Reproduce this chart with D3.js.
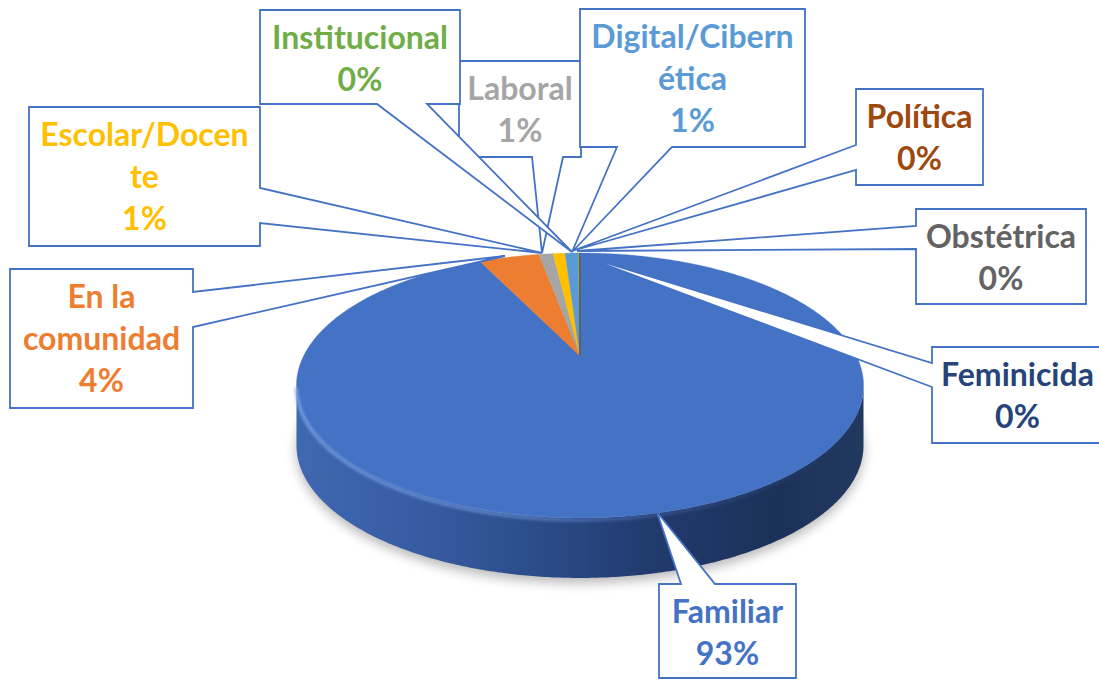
<!DOCTYPE html>
<html>
<head>
<meta charset="utf-8">
<script src="https://cdn.jsdelivr.net/npm/d3@7"></script>
<style>
  html, body { margin: 0; padding: 0; background: #ffffff; }
  svg { display: block; }
</style>
</head>
<body>
<svg id="chart" width="1099" height="680"></svg>
<script>
// ---------------- DATA ----------------
const categories = ["Familiar", "En la comunidad", "Laboral", "Escolar/Docente",
  "Digital/Cibernética", "Institucional", "Feminicida", "Política", "Obstétrica"];
const values = [92.86, 4.25, 0.99, 0.85, 0.92, 0.10, 0.01, 0.01, 0.01];
const labelLines = [["Familiar"], ["En la", "comunidad"], ["Laboral"], ["Escolar/Docen", "te"],
  ["Digital/Cibern", "ética"], ["Institucional"], ["Feminicida"], ["Política"], ["Obstétrica"]];

// ---------------- STYLE / LAYOUT ----------------
const colors = ["#4472C4", "#ED7D31", "#A5A5A5", "#FFC000", "#5B9BD5",
  "#70AD47", "#264478", "#9E480E", "#636363"];

// callout boxes (label layout): box [x0,y0,x1,y1], side of pointer, base of pointer, tip
const callouts = [
  { box: [659, 584, 796, 678], side: "top",    base: [681, 715], tip: [657, 512] },
  { box: [10, 269, 193, 408],  side: "right",  base: [292, 327], tip: [505, 256] },
  { box: [459, 61, 581, 157],  side: "bottom", base: [532, 563], tip: [542, 253] },
  { box: [29, 107, 260, 246],  side: "right",  base: [188, 223], tip: [542, 253] },
  { box: [580, 9, 805, 147],   side: "bottom", base: [617, 672], tip: [572, 252] },
  { box: [260, 10, 460, 104],  side: "bottom", base: [377, 427], tip: [572, 252] },
  { box: [932, 347, 1103, 443], side: "left",  base: [363, 387], tip: [580, 255] },
  { box: [856, 89, 983, 185],  side: "left",   base: [145, 170], tip: [572, 251] },
  { box: [916, 209, 1086, 304], side: "left",  base: [226, 249], tip: [577, 251] }
];

const pieCfg = { cx: 580, cy: 356, K: 276.4, U: 125.9, v: 0.2226, T: 60 };

// ---------------- DRAW ----------------
const svg = d3.select("#chart");
const defs = svg.append("defs");

const total = d3.sum(values);
const pct = d3.format(".0%");

const pie = d3.pie().sort(null).value(d => d).startAngle(0).endAngle(2 * Math.PI);
const arcs = pie(values);

function proj(theta, r, h) {
  const X = r * Math.sin(theta), Z = r * Math.cos(theta);
  const d = 1 + pieCfg.v * Z;
  return [pieCfg.cx + pieCfg.K * X / d, pieCfg.cy - pieCfg.U * Z / d + h * pieCfg.T];
}
function arcPts(a0, a1, r, h) {
  const n = Math.max(2, Math.ceil(Math.abs(a1 - a0) / (Math.PI / 360)));
  return d3.range(n + 1).map(i => proj(a0 + (a1 - a0) * i / n, r, h));
}
const line = d3.line();

// filters & gradients
const blur = defs.append("filter").attr("id", "shadow").attr("x", "-20%").attr("y", "-20%")
  .attr("width", "140%").attr("height", "140%");
blur.append("feGaussianBlur").attr("stdDeviation", 6);
const soft = defs.append("filter").attr("id", "soft").attr("x", "-10%").attr("y", "-10%")
  .attr("width", "120%").attr("height", "120%");
soft.append("feGaussianBlur").attr("stdDeviation", 1.6);

const sideGrad = defs.append("linearGradient").attr("id", "sideGrad")
  .attr("gradientUnits", "userSpaceOnUse").attr("x1", 296).attr("x2", 864).attr("y1", 0).attr("y2", 0);
[[0, "#3F68B1"], [0.22, "#365CA2"], [0.45, "#2A4A86"], [0.62, "#213B6E"], [0.85, "#1C3159"], [1, "#22395F"]]
  .forEach(([o, c]) => sideGrad.append("stop").attr("offset", o).attr("stop-color", c));

const rimGrad = defs.append("linearGradient").attr("id", "rimGrad")
  .attr("gradientUnits", "userSpaceOnUse").attr("x1", 296).attr("x2", 864).attr("y1", 0).attr("y2", 0);
[[0, "#7FA6E6", 0.9], [0.4, "#6F98DD", 0.7], [0.7, "#5A84CC", 0.25], [1, "#4472C4", 0]]
  .forEach(([o, c, op]) => rimGrad.append("stop").attr("offset", o).attr("stop-color", c).attr("stop-opacity", op));

const tL = Math.PI - Math.acos(pieCfg.v);   // right silhouette (~102.9deg)
const tR = Math.PI + Math.acos(pieCfg.v);   // left silhouette (~257.1deg)

const g = svg.append("g");

// shadow
const shadowPts = arcPts(0, 2 * Math.PI, 1.0, 1).map(p => [p[0], p[1] + 5]);
g.append("path").attr("d", line(shadowPts) + "Z").attr("fill", "#000").attr("opacity", 0.28)
  .attr("filter", "url(#shadow)");

// side wall
const sideTop = arcPts(tL, tR, 1, 0);
const sideBot = arcPts(tR, tL, 1, 1);
g.append("path").attr("d", line(sideTop.concat(sideBot)) + "Z").attr("fill", "url(#sideGrad)");

// top face slices
g.selectAll("path.slice").data(arcs).join("path").attr("class", "slice")
  .attr("d", d => line([[pieCfg.cx, pieCfg.cy]].concat(arcPts(d.startAngle, d.endAngle, 1, 0))) + "Z")
  .attr("fill", (d, i) => colors[i]).attr("stroke", (d, i) => colors[i]).attr("stroke-width", 0.4);

// bevel highlight on front rim
g.append("path").attr("d", line(arcPts(tL + 0.25, tR, 1, 0).map(p => [p[0], p[1] + 2])))
  .attr("fill", "none").attr("stroke", "url(#rimGrad)").attr("stroke-width", 3)
  .attr("filter", "url(#soft)");

// callouts
function calloutPts(c) {
  const [x0, y0, x1, y1] = c.box, [a, b] = c.base, t = c.tip;
  switch (c.side) {
    case "bottom": return [[x0, y0], [x1, y0], [x1, y1], [b, y1], t, [a, y1], [x0, y1]];
    case "top":    return [[x0, y0], [a, y0], t, [b, y0], [x1, y0], [x1, y1], [x0, y1]];
    case "right":  return [[x0, y0], [x1, y0], [x1, a], t, [x1, b], [x1, y1], [x0, y1]];
    case "left":   return [[x0, y0], [x1, y0], [x1, y1], [x0, y1], [x0, b], t, [x0, a]];
  }
}

const lab = svg.append("g");
categories.forEach((cat, i) => {
  const c = callouts[i];
  const gg = lab.append("g");
  gg.append("path").attr("d", line(calloutPts(c)) + "Z")
    .attr("fill", "#ffffff").attr("stroke", "#4472C4").attr("stroke-width", 1.8)
    .attr("stroke-linejoin", "miter");
  const lines = labelLines[i].concat([pct(values[i] / total)]);
  const tx = (c.box[0] + c.box[2]) / 2;
  const txt = gg.append("text").attr("text-anchor", "middle")
    .attr("font-family", "Lato, 'Open Sans', sans-serif").attr("font-weight", "bold")
    .attr("font-size", 32).attr("fill", colors[i]);
  lines.forEach((s, k) => {
    txt.append("tspan").attr("x", tx).attr("y", c.box[1] + 39 + k * 42).text(s);
  });
});
</script>
</body>
</html>
